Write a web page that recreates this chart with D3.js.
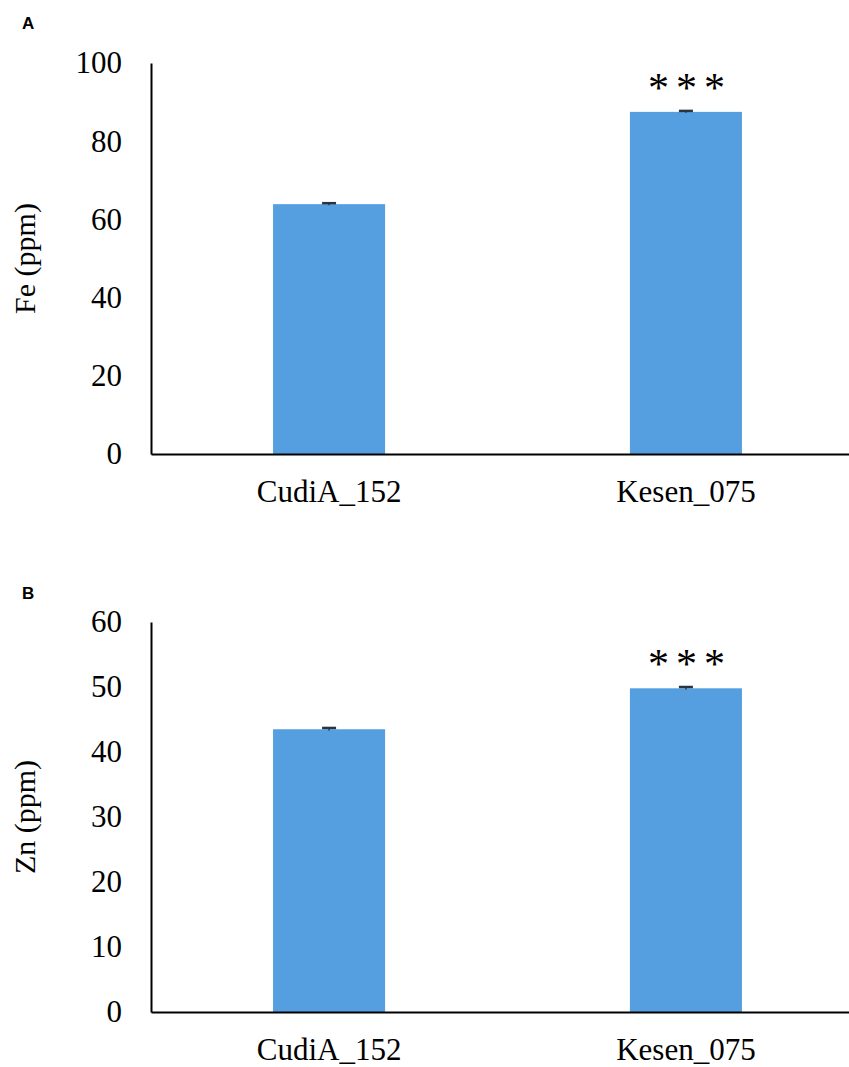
<!DOCTYPE html>
<html>
<head>
<meta charset="utf-8">
<script src="https://cdn.jsdelivr.net/npm/d3@7"></script>
<style>
  html, body { margin: 0; padding: 0; background: #fff; }
  svg { display: block; }
</style>
</head>
<body>
<svg id="chart" width="849" height="1067"></svg>
<script>
// Genotypes on the x axis
const genotypes = ["CudiA_152", "Kesen_075"];

// Panel A: iron content (ppm)
const feValues = [63.9, 87.5];
const feErrors = [0.25, 0.25];
const feTicks = [0, 20, 40, 60, 80, 100];

// Panel B: zinc content (ppm)
const znValues = [43.5, 49.8];
const znErrors = [0.2, 0.2];
const znTicks = [0, 10, 20, 30, 40, 50, 60];

// Significance marks per genotype
const signif = ["", "***"];

const svg = d3.select("#chart");
const barColor = "#559fe1";
const serif = "'Liberation Serif', 'Times New Roman', serif";

function panel(cfg) {
  const g = svg.append("g");
  const x = d3.scaleBand().domain(genotypes)
    .range([cfg.left, cfg.right]).paddingInner(0.686).paddingOuter(0.342);
  const y = d3.scaleLinear().domain(cfg.domain).range([cfg.bottom, cfg.top]);

  // panel letter
  g.append("text").attr("x", 22).attr("y", cfg.letterY)
    .attr("font-family", "'Liberation Sans', Arial, sans-serif")
    .attr("font-weight", "bold").attr("font-size", 17)
    .text(cfg.letter);

  // bars
  g.selectAll("rect.bar").data(cfg.values).join("rect")
    .attr("class", "bar")
    .attr("x", (d, i) => x(genotypes[i]))
    .attr("width", x.bandwidth())
    .attr("y", d => y(d))
    .attr("height", d => y(0) - y(d))
    .attr("fill", barColor);

  // error bars
  const eg = g.selectAll("g.err").data(cfg.values).join("g").attr("class", "err");
  eg.append("line")
    .attr("x1", (d, i) => x(genotypes[i]) + x.bandwidth() / 2)
    .attr("x2", (d, i) => x(genotypes[i]) + x.bandwidth() / 2)
    .attr("y1", (d, i) => y(d - cfg.errors[i]))
    .attr("y2", (d, i) => y(d + cfg.errors[i]))
    .attr("stroke", "#2a3440").attr("stroke-width", 1.5);
  eg.append("line")
    .attr("x1", (d, i) => x(genotypes[i]) + x.bandwidth() / 2 - 7)
    .attr("x2", (d, i) => x(genotypes[i]) + x.bandwidth() / 2 + 7)
    .attr("y1", (d, i) => y(d + cfg.errors[i]))
    .attr("y2", (d, i) => y(d + cfg.errors[i]))
    .attr("stroke", "#2a3440").attr("stroke-width", 2.5);

  // significance stars
  g.selectAll("text.sig").data(signif).join("text")
    .attr("class", "sig")
    .attr("x", (d, i) => x(genotypes[i]) + x.bandwidth() / 2 + 4)
    .attr("y", (d, i) => y(cfg.values[i]) + cfg.starOffset)
    .attr("text-anchor", "middle")
    .attr("font-family", serif).attr("font-size", 42)
    .attr("letter-spacing", 7)
    .text(d => d);

  // y axis
  const ya = g.append("g").attr("transform", `translate(${cfg.left},0)`)
    .call(d3.axisLeft(y).tickValues(cfg.ticks).tickSize(0).tickPadding(29));
  ya.select(".domain").attr("stroke", "#000").attr("stroke-width", 2);
  ya.selectAll("text").attr("font-family", serif).attr("font-size", 31).attr("fill", "#000");

  // x axis
  const xa = g.append("g").attr("transform", `translate(0,${cfg.bottom})`)
    .call(d3.axisBottom(x).tickSize(0).tickPadding(26));
  xa.select(".domain").attr("stroke", "#000").attr("stroke-width", 2);
  xa.selectAll("text").attr("font-family", serif).attr("font-size", 31).attr("fill", "#000");

  // y axis title
  g.append("text")
    .attr("transform", `translate(35,${(cfg.top + cfg.bottom) / 2}) rotate(-90)`)
    .attr("text-anchor", "middle")
    .attr("font-family", serif).attr("font-size", 30)
    .text(cfg.title);
}

panel({
  letter: "A", letterY: 29, values: feValues, errors: feErrors, ticks: feTicks,
  domain: [0, 100], left: 151, right: 864, top: 63, bottom: 454,
  title: "Fe (ppm)", starOffset: -10
});

panel({
  letter: "B", letterY: 599, values: znValues, errors: znErrors, ticks: znTicks,
  domain: [0, 60], left: 151, right: 864, top: 622, bottom: 1012,
  title: "Zn (ppm)", starOffset: -10
});
</script>
</body>
</html>
